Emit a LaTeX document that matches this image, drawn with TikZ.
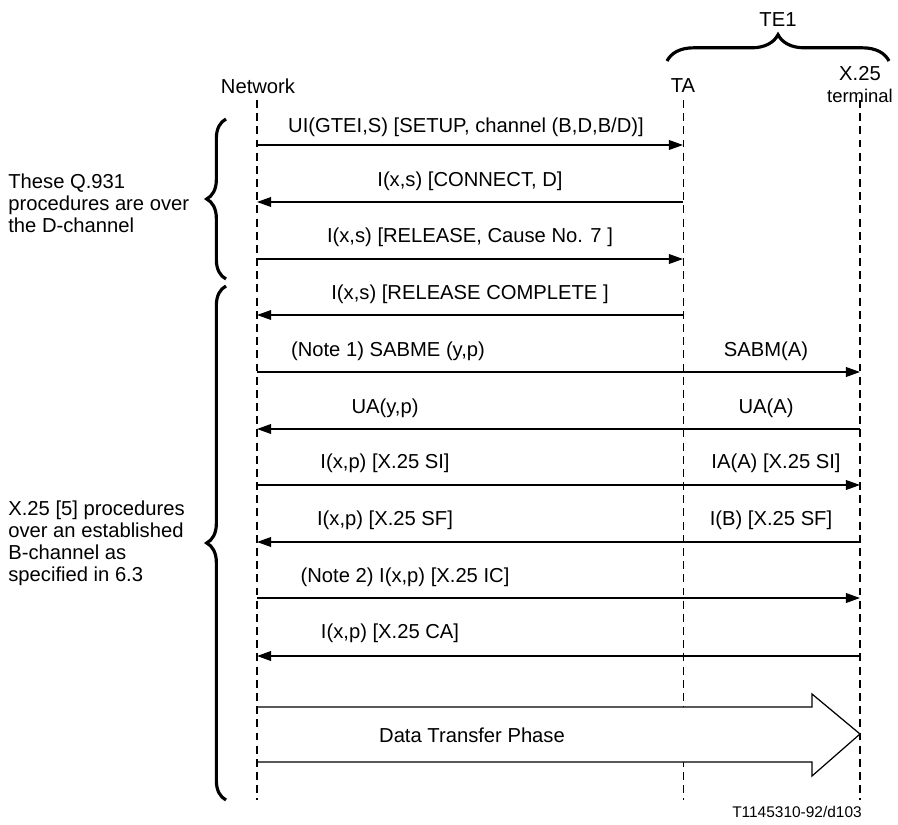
\documentclass[tikz,border=0pt]{standalone}
\usepackage{fontspec}
\setmainfont{Liberation Sans}
\usetikzlibrary{arrows.meta,decorations.pathreplacing}

\begin{document}
\begin{tikzpicture}[x=0.02cm, y=-0.02cm,
    font=\fontsize{11.5}{12.5}\selectfont,
    life/.style={dash pattern=on 4.5pt off 3pt, line width=0.9pt},
    lifethin/.style={dash pattern=on 4.5pt off 3pt, line width=0.5pt},
    msg/.style={line width=0.9pt, -{Triangle[length=8pt,width=5.5pt]}},
    lbl/.style={inner sep=1pt},
    bigbrace/.style={decorate, decoration={brace, amplitude=11pt}, line width=1.8pt}]
    \useasboundingbox (0,0) rectangle (898,824);

    % lifelines
    \coordinate (ntop) at (257,100);  \coordinate (nbot) at (257,800);
    \coordinate (ttop) at (683,100);  \coordinate (tbot) at (683,800);
    \coordinate (xtop) at (860,100);  \coordinate (xbot) at (860,800);
    \draw[life] (ntop) -- (nbot);
    \draw[lifethin] (ttop) -- (tbot);
    \draw[life] (xtop) -- (xbot);

    % headers
    \node (net) at (258,86) {Network};
    \node (ta) at (683,86) {TA};
    \node[align=center, inner sep=0pt] (x25) at (860,85) {X.25\\{\fontsize{10.5}{11}\selectfont terminal}};
    \node (te) at (778,20) {TE1};
    \draw[bigbrace, decoration={amplitude=15pt}] (667,61) -- (889,61);

    % message levels
    \foreach \i/\y in {1/145,2/202,3/259,4/315,5/372,6/429,7/485,8/542,9/598,10/656}{
        \coordinate (n\i) at (257,\y);
        \coordinate (t\i) at (683,\y);
        \coordinate (x\i) at (860,\y);
    }

    % Q.931 over the D-channel
    \draw[msg] (n1) -- (t1);
    \node[lbl] (m1) at (466,127) {UI(GTEI,S) [SETUP, channel (B,D,B/D)]};
    \draw[msg] (t2) -- (n2);
    \node[lbl] (m2) at (470,181) {I(x,s) [CONNECT, D]};
    \draw[msg] (n3) -- (t3);
    \node[lbl] (m3) at (470,237) {I(x,s) [RELEASE, Cause No. 7 ]};
    \draw[msg, line width=0.6pt] (t4) -- (n4);
    \node[lbl] (m4) at (470,294) {I(x,s) [RELEASE COMPLETE ]};

    % X.25 over the B-channel
    \draw[msg] (n5) -- (x5);
    \node[lbl] (m5a) at (388,351) {(Note 1) SABME (y,p)};
    \node[lbl] (m5b) at (766,351) {SABM(A)};
    \draw[msg] (x6) -- (n6);
    \node[lbl] (m6a) at (385,408) {UA(y,p)};
    \node[lbl] (m6b) at (766,408) {UA(A)};
    \draw[msg] (n7) -- (x7);
    \node[lbl] (m7a) at (385,463) {I(x,p) [X.25 SI]};
    \node[lbl] (m7b) at (776,463) {IA(A) [X.25 SI]};
    \draw[msg] (x8) -- (n8);
    \node[lbl] (m8a) at (385,520) {I(x,p) [X.25 SF]};
    \node[lbl] (m8b) at (771,520) {I(B) [X.25 SF]};
    \draw[msg] (n9) -- (x9);
    \node[lbl] (m9) at (405,577) {(Note 2) I(x,p) [X.25 IC]};
    \draw[msg] (x10) -- (n10);
    \node[lbl] (m10) at (390,633) {I(x,p) [X.25 CA]};

    % data transfer phase
    \fill[white] (258,707) -- (812,707) -- (812,694) -- (860,734)
        -- (812,776) -- (812,762) -- (258,762) -- cycle;
    \draw[line width=0.7pt] (257,707) -- (812,707) -- (812,694) -- (860,734)
        -- (812,776) -- (812,762) -- (257,762);
    \node (dtp) at (472,735) {Data Transfer Phase};

    % left braces
    \draw[bigbrace] (226,279) -- (226,119);
    \draw[bigbrace] (226,800) -- (226,286);
    \node[align=left, anchor=west, inner sep=0pt] (qd) at (8,203)
        {These Q.931\\procedures are over\\the D-channel};
    \node[align=left, anchor=west, inner sep=0pt] (xb) at (8,543)
        {X.25 [5] procedures\\over an established\\B-channel as\\specified in 6.3};

    \node[font=\fontsize{8.8}{9}\selectfont] (ref) at (797,812) {T1145310-92/d103};
\end{tikzpicture}
\end{document}
